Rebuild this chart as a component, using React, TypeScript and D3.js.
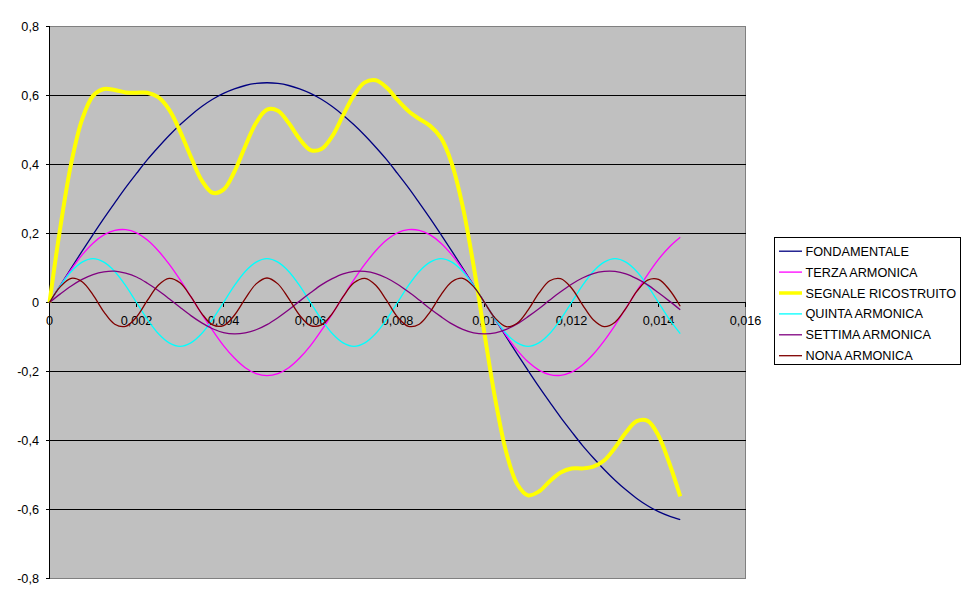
/**
 * Serie di Fourier dell'onda quadra: fondamentale + armoniche dispari e segnale ricostruito
 */
import { useEffect, useRef } from 'react';
import * as d3 from 'd3';

// tempo (s)
const time = [
  0, 0.00025, 0.0005, 0.00075, 0.001, 0.00125, 0.0015, 0.00175, 0.002, 0.00225,
  0.0025, 0.00275, 0.003, 0.00325, 0.0035, 0.00375, 0.004, 0.00425, 0.0045, 0.00475,
  0.005, 0.00525, 0.0055, 0.00575, 0.006, 0.00625, 0.0065, 0.00675, 0.007, 0.00725,
  0.0075, 0.00775, 0.008, 0.00825, 0.0085, 0.00875, 0.009, 0.00925, 0.0095, 0.00975,
  0.01, 0.01025, 0.0105, 0.01075, 0.011, 0.01125, 0.0115, 0.01175, 0.012, 0.01225,
  0.0125, 0.01275, 0.013, 0.01325, 0.0135, 0.01375, 0.014, 0.01425, 0.0145,
];

const fondamentale = [
  0, 0.05, 0.1, 0.149, 0.197, 0.244, 0.289, 0.333, 0.374, 0.414,
  0.45, 0.484, 0.515, 0.543, 0.568, 0.589, 0.606, 0.619, 0.629, 0.635,
  0.637, 0.635, 0.629, 0.619, 0.606, 0.589, 0.568, 0.543, 0.515, 0.484,
  0.45, 0.414, 0.374, 0.333, 0.289, 0.244, 0.197, 0.149, 0.1, 0.05,
  0, -0.05, -0.1, -0.149, -0.197, -0.244, -0.289, -0.333, -0.374, -0.414,
  -0.45, -0.484, -0.515, -0.543, -0.568, -0.589, -0.606, -0.619, -0.629,
];

const terza = [
  0, 0.049, 0.096, 0.138, 0.172, 0.196, 0.209, 0.211, 0.202, 0.181,
  0.15, 0.111, 0.066, 0.017, -0.033, -0.081, -0.125, -0.161, -0.189, -0.206,
  -0.212, -0.206, -0.189, -0.161, -0.125, -0.081, -0.033, 0.017, 0.066, 0.111,
  0.15, 0.181, 0.202, 0.211, 0.209, 0.196, 0.172, 0.138, 0.096, 0.049,
  0, -0.049, -0.096, -0.138, -0.172, -0.196, -0.209, -0.211, -0.202, -0.181,
  -0.15, -0.111, -0.066, -0.017, 0.033, 0.081, 0.125, 0.161, 0.189,
];

const segnale = [
  0, 0.219, 0.404, 0.531, 0.599, 0.619, 0.616, 0.609, 0.608, 0.608,
  0.595, 0.559, 0.497, 0.422, 0.354, 0.318, 0.327, 0.379, 0.453, 0.521,
  0.559, 0.556, 0.52, 0.474, 0.442, 0.445, 0.482, 0.543, 0.601, 0.638,
  0.644, 0.623, 0.587, 0.555, 0.532, 0.512, 0.477, 0.402, 0.278, 0.106,
  -0.091, -0.282, -0.434, -0.526, -0.559, -0.548, -0.518, -0.493, -0.481, -0.481,
  -0.476, -0.458, -0.421, -0.377, -0.344, -0.343, -0.386, -0.466, -0.562,
];

const quinta = [
  0, 0.049, 0.09, 0.117, 0.127, 0.117, 0.09, 0.049, 0, -0.049,
  -0.09, -0.117, -0.127, -0.117, -0.09, -0.049, 0, 0.049, 0.09, 0.117,
  0.127, 0.117, 0.09, 0.049, 0, -0.049, -0.09, -0.117, -0.127, -0.117,
  -0.09, -0.049, 0, 0.049, 0.09, 0.117, 0.127, 0.117, 0.09, 0.049,
  0, -0.049, -0.09, -0.117, -0.127, -0.117, -0.09, -0.049, 0, 0.049,
  0.09, 0.117, 0.127, 0.117, 0.09, 0.049, 0, -0.049, -0.09,
];

const settima = [
  0, 0.025, 0.048, 0.067, 0.081, 0.089, 0.091, 0.085, 0.074, 0.056,
  0.035, 0.011, -0.014, -0.038, -0.059, -0.076, -0.087, -0.091, -0.088, -0.079,
  -0.064, -0.044, -0.021, 0.004, 0.028, 0.051, 0.069, 0.083, 0.09, 0.09,
  0.084, 0.071, 0.053, 0.031, 0.007, -0.018, -0.041, -0.062, -0.078, -0.088,
  -0.091, -0.088, -0.078, -0.062, -0.041, -0.018, 0.007, 0.031, 0.053, 0.071,
  0.084, 0.09, 0.09, 0.083, 0.069, 0.051, 0.028, 0.004, -0.021,
];

const nona = [
  0, 0.046, 0.07, 0.06, 0.022, -0.027, -0.063, -0.069, -0.042, 0.006,
  0.05, 0.07, 0.057, 0.017, -0.032, -0.065, -0.067, -0.037, 0.011, 0.054,
  0.071, 0.054, 0.011, -0.037, -0.067, -0.065, -0.032, 0.017, 0.057, 0.07,
  0.05, 0.006, -0.042, -0.069, -0.063, -0.027, 0.022, 0.06, 0.07, 0.046,
  0, -0.046, -0.07, -0.06, -0.022, 0.027, 0.063, 0.069, 0.042, -0.006,
  -0.05, -0.07, -0.057, -0.017, 0.032, 0.065, 0.067, 0.037, -0.011,
];

const seriesNames = [
  'FONDAMENTALE',
  'TERZA ARMONICA',
  'SEGNALE RICOSTRUITO',
  'QUINTA ARMONICA',
  'SETTIMA ARMONICA',
  'NONA ARMONICA',
];
const seriesValues = [fondamentale, terza, segnale, quinta, settima, nona];

const xTicks = [0, 0.002, 0.004, 0.006, 0.008, 0.01, 0.012, 0.014, 0.016];
const xTickLabels = ['0', '0,002', '0,004', '0,006', '0,008', '0,01', '0,012', '0,014', '0,016'];
const yTicks = [-0.8, -0.6, -0.4, -0.2, 0, 0.2, 0.4, 0.6, 0.8];
const yTickLabels = ['-0,8', '-0,6', '-0,4', '-0,2', '0', '0,2', '0,4', '0,6', '0,8'];

// stile delle serie (ordine = legenda)
const SERIES_COLORS = ['#000080', '#FF00FF', '#FFFF00', '#00FFFF', '#800080', '#800000'];
const SERIES_WIDTHS = [1.3, 1.3, 4, 1.3, 1.3, 1.3];

const WIDTH = 970;
const HEIGHT = 604;
const FONT = '"Liberation Sans", Arial, sans-serif';
const FONT_SIZE = '12.7px';

export default function App() {
  const svgRef = useRef<SVGSVGElement>(null);

  useEffect(() => {
    if (!svgRef.current) return;
    const svg = d3.select(svgRef.current);
    svg.selectAll('*').remove();

    const plot = { left: 49.5, right: 745.5, top: 26.5, bottom: 578.5 };

    const x = d3.scaleLinear().domain([0, 0.016]).range([plot.left, plot.right]);
    const y = d3.scaleLinear().domain([-0.8, 0.8]).range([plot.bottom, plot.top]);

    // ── area del grafico ──
    svg.append('rect')
      .attr('x', plot.left)
      .attr('y', plot.top)
      .attr('width', plot.right - plot.left)
      .attr('height', plot.bottom - plot.top)
      .attr('fill', '#C0C0C0')
      .attr('stroke', '#808080')
      .attr('shape-rendering', 'crispEdges');

    // griglia orizzontale
    svg.append('g')
      .selectAll('line')
      .data(yTicks.filter((t) => t !== 0 && Math.abs(t) !== 0.8))
      .enter()
      .append('line')
      .attr('x1', plot.left)
      .attr('x2', plot.right)
      .attr('y1', (d) => y(d))
      .attr('y2', (d) => y(d))
      .attr('stroke', '#000')
      .attr('shape-rendering', 'crispEdges');

    // ── assi ──
    const xAxis = svg.append('g')
      .attr('transform', `translate(0,${y(0)})`)
      .call(
        d3.axisBottom(x)
          .tickValues(xTicks)
          .tickFormat((_, i) => xTickLabels[i])
          .tickSizeInner(4)
          .tickSizeOuter(0)
          .tickPadding(9.7)
          .offset(0),
      );

    const yAxis = svg.append('g')
      .attr('transform', `translate(${x(0)},0)`)
      .call(
        d3.axisLeft(y)
          .tickValues(yTicks)
          .tickFormat((_, i) => yTickLabels[i])
          .tickSizeInner(4)
          .tickSizeOuter(0)
          .tickPadding(6.5)
          .offset(0),
      );

    [xAxis, yAxis].forEach((ax) => {
      ax.attr('font-family', FONT).attr('font-size', FONT_SIZE);
      ax.selectAll('.domain, .tick line').attr('stroke', '#000').attr('shape-rendering', 'crispEdges');
      ax.selectAll('.tick text').attr('fill', '#000');
    });

    // ── serie ──
    const line = d3.line<number>()
      .x((_, i) => x(time[i]))
      .y((d) => y(d))
      .curve(d3.curveCatmullRom.alpha(0.5));

    svg.append('g')
      .selectAll('path')
      .data(seriesValues)
      .enter()
      .append('path')
      .attr('d', (d) => line(d))
      .attr('fill', 'none')
      .attr('stroke', (_, i) => SERIES_COLORS[i])
      .attr('stroke-width', (_, i) => SERIES_WIDTHS[i])
      .attr('stroke-linejoin', 'round');

    // ── legenda ──
    const legend = svg.append('g');
    legend.append('rect')
      .attr('x', 774.5)
      .attr('y', 237.5)
      .attr('width', 186)
      .attr('height', 127)
      .attr('fill', '#fff')
      .attr('stroke', '#000')
      .attr('shape-rendering', 'crispEdges');

    const items = legend.selectAll('g.item')
      .data(seriesNames)
      .enter()
      .append('g')
      .attr('class', 'item')
      .attr('transform', (_, i) => `translate(0,${255.7 + i * 20.9})`);

    items.append('line')
      .attr('x1', 779)
      .attr('x2', 802)
      .attr('y1', -4.5)
      .attr('y2', -4.5)
      .attr('stroke', (_, i) => SERIES_COLORS[i])
      .attr('stroke-width', (_, i) => (SERIES_WIDTHS[i] > 2 ? 3.5 : 1.3));

    items.append('text')
      .attr('x', 805.5)
      .attr('y', 0)
      .attr('font-family', FONT)
      .attr('font-size', FONT_SIZE)
      .attr('fill', '#000')
      .text((d) => d);
  }, []);

  return (
    <svg
      ref={svgRef}
      width={WIDTH}
      height={HEIGHT}
      style={{ position: 'absolute', left: 0, top: 0, background: '#fff' }}
    />
  );
}
